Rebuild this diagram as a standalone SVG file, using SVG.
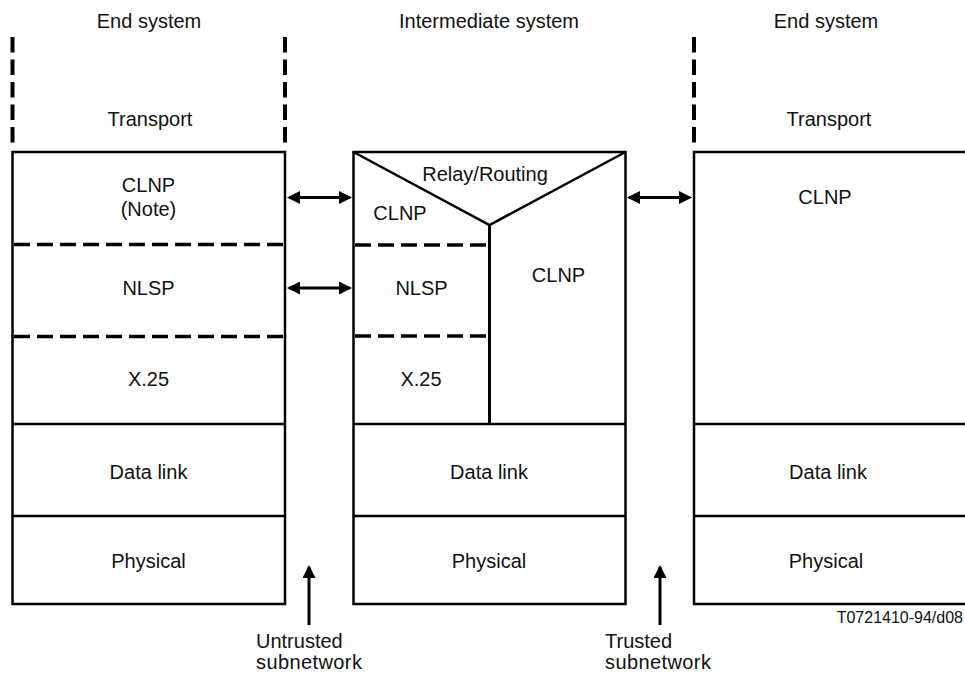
<svg xmlns="http://www.w3.org/2000/svg" width="965" height="675" viewBox="0 0 965 675">
  <style>
    text { font-family: "Liberation Sans", Arial, sans-serif; font-size: 20px; fill: #111; }
    .c { text-anchor: middle; }
    .solid { fill: none; stroke: #000; stroke-width: 2.5; }
    .thick { fill: none; stroke: #000; stroke-width: 3; }
    .dashh { fill: none; stroke: #000; stroke-width: 3.5; stroke-dasharray: 16 7; }
    .dashv { fill: none; stroke: #000; stroke-width: 4; stroke-dasharray: 15.5 7; }
    .conn { fill: none; stroke: #000; stroke-width: 3; }
  </style>
  <defs>
    <marker id="ah" viewBox="0 0 13 13" refX="11" refY="6.5" markerWidth="13" markerHeight="13" markerUnits="userSpaceOnUse" orient="auto-start-reverse">
      <path d="M0,0 L13,6.5 L0,13 z" fill="#000"/>
    </marker>
  </defs>
  <rect width="965" height="675" fill="#fff"/>

  <!-- Left end system -->
  <g id="end-system-left">
    <text class="c" x="149" y="28">End system</text>
    <line class="dashv" x1="12.5" y1="37" x2="12.5" y2="143.5"/>
    <line class="dashv" x1="285" y1="37" x2="285" y2="143.5"/>
    <text class="c" x="150" y="126">Transport</text>
    <rect class="solid" x="12.5" y="152" width="272.5" height="452"/>
    <line class="dashh" x1="14" y1="244.5" x2="284" y2="244.5"/>
    <line class="dashh" x1="14" y1="336.5" x2="284" y2="336.5"/>
    <line class="solid" x1="12.5" y1="424" x2="285" y2="424"/>
    <line class="solid" x1="12.5" y1="516" x2="285" y2="516"/>
    <text class="c" x="148.5" y="192">CLNP</text>
    <text class="c" x="148.5" y="216">(Note)</text>
    <text class="c" x="148.5" y="295">NLSP</text>
    <text class="c" x="148.5" y="386">X.25</text>
    <text class="c" x="148.5" y="479">Data link</text>
    <text class="c" x="148.5" y="568">Physical</text>
  </g>

  <!-- Intermediate system -->
  <g id="intermediate-system">
    <text class="c" x="489" y="28">Intermediate system</text>
    <rect class="solid" x="353.5" y="152" width="272" height="452"/>
    <polyline class="solid" points="353.5,152 489.5,225 625.5,152"/>
    <line class="thick" x1="489.5" y1="225" x2="489.5" y2="424"/>
    <line class="dashh" x1="355" y1="245" x2="488" y2="245"/>
    <line class="dashh" x1="355" y1="336" x2="488" y2="336"/>
    <line class="solid" x1="353.5" y1="424" x2="625.5" y2="424"/>
    <line class="solid" x1="353.5" y1="516" x2="625.5" y2="516"/>
    <text class="c" x="485" y="181">Relay/Routing</text>
    <text class="c" x="400" y="220">CLNP</text>
    <text class="c" x="421.5" y="295">NLSP</text>
    <text class="c" x="421" y="386">X.25</text>
    <text class="c" x="558.5" y="282">CLNP</text>
    <text class="c" x="489" y="479">Data link</text>
    <text class="c" x="489" y="568">Physical</text>
  </g>

  <!-- Right end system -->
  <g id="end-system-right">
    <text class="c" x="826" y="28">End system</text>
    <line class="dashv" x1="694" y1="37" x2="694" y2="143.5"/>
    <text class="c" x="829" y="126">Transport</text>
    <polyline class="solid" points="965,152 694,152 694,604 965,604"/>
    <line class="solid" x1="694" y1="424" x2="965" y2="424"/>
    <line class="solid" x1="694" y1="516" x2="965" y2="516"/>
    <text class="c" x="825" y="204">CLNP</text>
    <text class="c" x="828" y="479">Data link</text>
    <text class="c" x="826" y="568">Physical</text>
  </g>

  <!-- Subnetwork labels -->
  <g id="untrusted-subnetwork">
    <text x="256" y="648">Untrusted</text>
    <text x="256" y="669" letter-spacing="0.4">subnetwork</text>
  </g>
  <g id="trusted-subnetwork">
    <text x="605" y="648">Trusted</text>
    <text x="605" y="669" letter-spacing="0.4">subnetwork</text>
  </g>

  <text x="963" y="623" text-anchor="end" style="font-size:16px">T0721410-94/d08</text>

  <!-- Connectors -->
  <g id="connectors">
    <line class="conn" x1="289" y1="197.5" x2="350" y2="197.5" marker-start="url(#ah)" marker-end="url(#ah)"/>
    <line class="conn" x1="289" y1="288" x2="350" y2="288" marker-start="url(#ah)" marker-end="url(#ah)"/>
    <line class="conn" x1="629" y1="197.5" x2="690" y2="197.5" marker-start="url(#ah)" marker-end="url(#ah)"/>
    <line class="conn" x1="309" y1="625" x2="309" y2="567" marker-end="url(#ah)"/>
    <line class="conn" x1="660" y1="625" x2="660" y2="567" marker-end="url(#ah)"/>
  </g>
</svg>
